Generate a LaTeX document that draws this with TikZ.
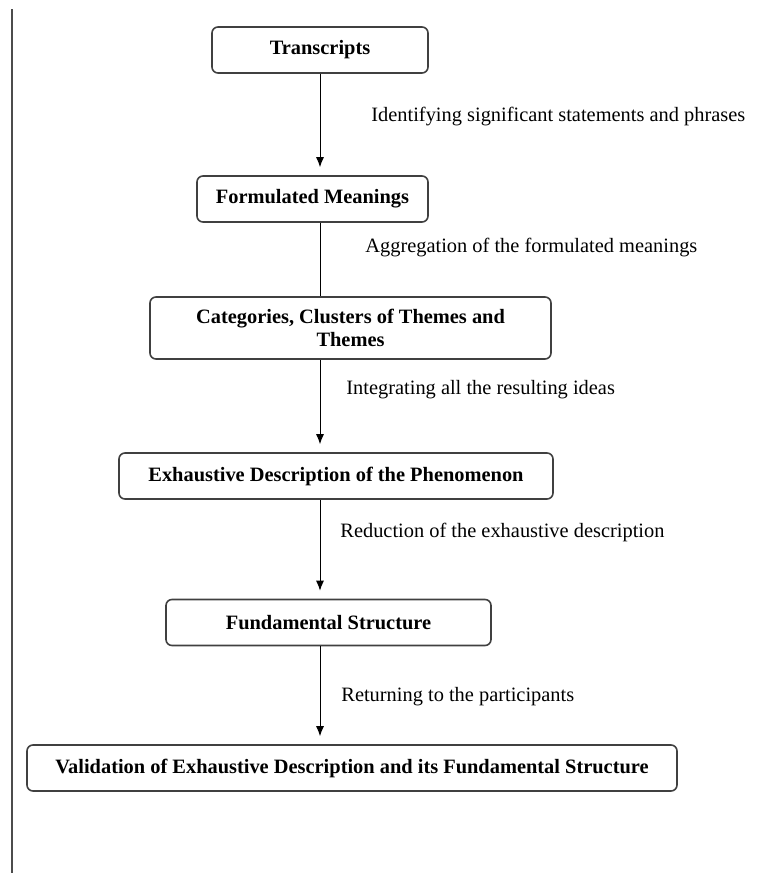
\documentclass[tikz,border=0pt]{standalone}
\usepackage{fontspec}
\setmainfont{Liberation Serif}
\usetikzlibrary{arrows.meta}

\begin{document}
\begin{tikzpicture}[
  x=0.5pt, y=-0.5pt,
  stage/.style={
    draw=black!75, line width=0.8pt, rounded corners=3pt,
    minimum height=23pt,
    inner sep=0pt, % boxes get their size from minimum width/height
    font=\fontsize{10.2}{11.5}\selectfont\bfseries, align=center
  },
  note/.style={anchor=west, inner sep=0pt, font=\fontsize{10.2}{12}\selectfont},
  flow/.style={line width=0.5pt, shorten >=4pt, -{Latex[length=5pt,width=4pt]}}
]
\useasboundingbox (0,0) rectangle (757,873);

% --- page margin rule ---
\draw[black!70, line width=1pt] (12,9) -- (12,873);

% --- Stages ---
\node[stage, minimum width=108pt] (trans) at (320,50) {Transcripts};
\node[stage, minimum width=115.5pt] (form) at (312.5,199) {Formulated Meanings};
\node[stage, minimum width=200.5pt, minimum height=31pt] (cat) at (350.5,328)
  {Categories, Clusters of Themes and\\Themes};
\node[stage, minimum width=217pt] (exh) at (336,476) {Exhaustive Description of the Phenomenon};
\node[stage, minimum width=162.5pt] (fund) at (328.5,622.5) {Fundamental Structure};
\node[stage, minimum width=325pt] (valid) at (352,768)
  {Validation of Exhaustive Description and its Fundamental Structure};

% --- Steps ---
\draw[flow] (trans.south) -- (trans.south |- form.north);
\draw[line width=0.5pt] (form.south -| trans.south) -- (cat.north -| trans.south);
\draw[flow] (cat.south -| trans.south) -- (exh.north -| trans.south);
\draw[flow] (exh.south -| trans.south) -- (fund.north -| trans.south);
\draw[flow] (fund.south -| trans.south) -- (valid.north -| trans.south);

% --- Step labels ---
\node[note] (l1) at (371,117) {Identifying significant statements and phrases};
\node[note] (l2) at (365,248) {Aggregation of the formulated meanings};
\node[note] (l3) at (346,390) {Integrating all the resulting ideas};
\node[note] (l4) at (340,532) {Reduction of the exhaustive description};
\node[note] (l5) at (341,697) {Returning to the participants};
\end{tikzpicture}
\end{document}
